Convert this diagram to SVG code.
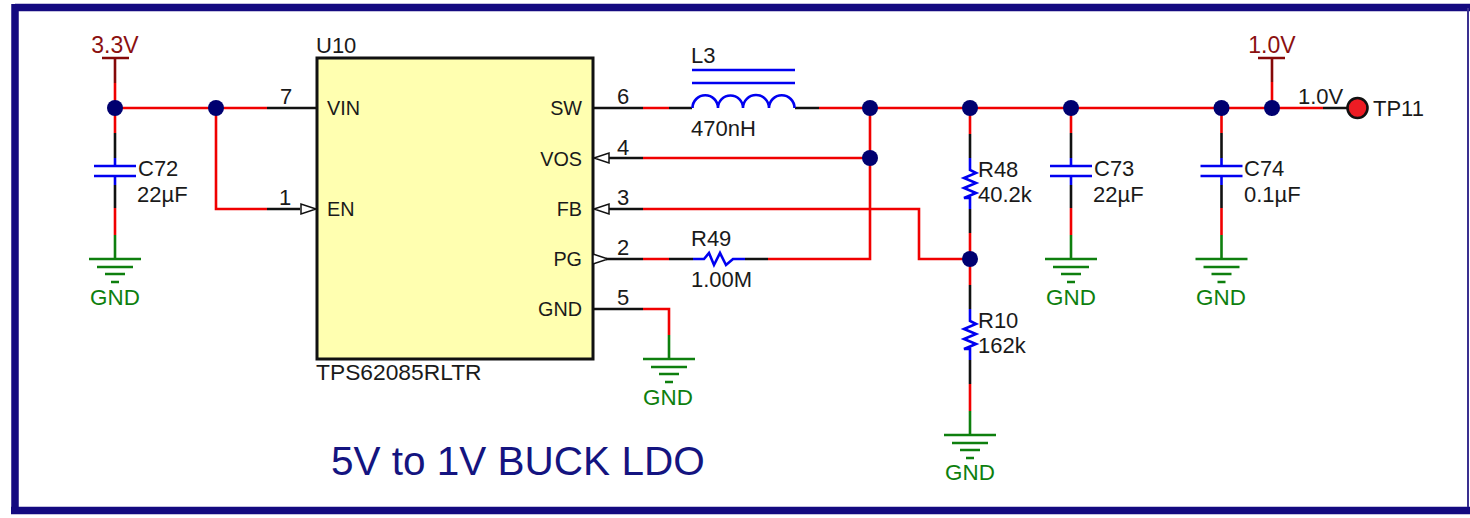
<svg xmlns="http://www.w3.org/2000/svg" width="1470" height="518" viewBox="0 0 1470 518">
<style>
text{font-family:"Liberation Sans",Arial,sans-serif;font-size:22px;fill:#1a1a1a}
.m{text-anchor:middle}.e{text-anchor:end}
.n{font-size:19.800px}
.pw{fill:#8b1010;font-size:23px}.gt{fill:#0e7f0e;font-size:22.400px}
path,line{fill:none;stroke-width:2.600}
.r{stroke:#f00000}.k{stroke:#111}.b{stroke:#0000f0}.g{stroke:#0e7f0e}.d{stroke:#850808}
.j{fill:#000070}
.pin{fill:#fff;stroke:#111;stroke-width:1.500}
</style>
<defs>
<g id="gnd"><path class="g" d="M0 0V24M-26 24H26M-18 32H18M-10 39H10M-4 47H4"/></g>
<g id="cap"><path class="b" d="M0 -8V0M-21 0H21M-21 10H21M0 10V19"/></g>
<g id="res"><path class="b" d="M0 0V12L6 15-6 20 6 25-6 30 6 35-6 40 0 40V51"/></g>
</defs>
<path d="M15 7.500H1470M15 4V514M11 510.500H1470" style="stroke:#140a80;stroke-width:7.500"/>
<line x1="1468" y1="8" x2="1468" y2="507" style="stroke:#3a3090;stroke-width:2"/>

<g id="connectors">
<path class="r" d="M115 83V133M115 108H267M216 108V209H267M115 208V235"/>
<path class="k" d="M115 133V158M115 185V208M267 108H317M267 209H300"/>
<path class="r" d="M643 108H669M819 108H1323M870 108V259H768M643 259H669M643 158H870M643 209H919V259H970M643 309H669V335"/>
<path class="k" d="M593 108H643M669 108H692M795 108H819M608 158H643M608 209H643M606 259H643M669 259H693M745 259H768M593 309H643"/>
<path class="r" d="M970 108V134M970 233V285M970 384V411M1071 108V133M1071 208V235M1221.500 108V133M1221.500 208V235M1272 82V108"/>
<path class="k" d="M970 134V158M970 209V233M970 285V309M970 360V384M1071 133V158M1071 185V208M1221.500 133V158M1221.500 185V208M1323 108H1347"/>
<path class="d" d="M115 58V83M1272 58V82M102 58H129M1258 58H1285"/>
</g>

<g id="U10">
<rect x="317" y="58" width="276" height="301" fill="#ffffb0" stroke="#111" stroke-width="3"/>
<text x="316" y="53">U10</text>
<text x="316" y="380" style="font-size:22.800px">TPS62085RLTR</text>
<text class="n" x="327" y="115">VIN</text><text class="n" x="327" y="216">EN</text>
<text class="e n" x="582" y="115">SW</text><text class="e n" x="582" y="166">VOS</text><text class="e n" x="582" y="216">FB</text><text class="e n" x="582" y="266">PG</text><text class="e n" x="582" y="316">GND</text>
<text class="m" x="286" y="104">7</text><text class="m" x="285" y="205">1</text>
<text class="m" x="623" y="104">6</text><text class="m" x="623" y="155">4</text><text class="m" x="623" y="205">3</text><text class="m" x="623" y="255">2</text><text class="m" x="623" y="305">5</text>
<path class="pin" d="M316 209 301 204V214Z"/>
<path class="pin" d="M594 158 609 153V163Z"/>
<path class="pin" d="M594 209 609 204V214Z"/>
<path class="pin" d="M608 259 593 254V264Z"/>
</g>

<g id="L3">
<path class="b" d="M692 70H795M692 83H795M692.500 108A12.500 12.500 0 0 1 718 108A12.500 12.500 0 0 1 743 108A12.500 12.500 0 0 1 769 108A12.500 12.500 0 0 1 794.500 108"/>
<text x="691" y="63">L3</text><text x="691" y="136">470nH</text>
</g>
<g id="R49">
<path class="b" d="M693 259H704L709 253 714 265 720 253 726 265 733 259H745"/>
<text x="691" y="246">R49</text><text x="691" y="287">1.00M</text>
</g>
<g id="R48"><use href="#res" x="970" y="158"/><text x="978" y="177">R48</text><text x="978" y="202">40.2k</text></g>
<g id="R10"><use href="#res" x="970" y="309"/><text x="978" y="328">R10</text><text x="978" y="353">162k</text></g>
<g id="C72"><use href="#cap" x="115" y="166"/><text x="138" y="176">C72</text><text x="137" y="202">22µF</text></g>
<g id="C73"><use href="#cap" x="1071" y="166"/><text x="1094" y="176">C73</text><text x="1093" y="202">22µF</text></g>
<g id="C74"><use href="#cap" x="1221.500" y="166"/><text x="1244" y="176">C74</text><text x="1244" y="202">0.1µF</text></g>

<g id="GND1"><use href="#gnd" x="115" y="235"/><text class="m gt" x="115" y="305">GND</text></g>
<g id="GND2"><use href="#gnd" x="669" y="335"/><text class="m gt" x="668" y="405">GND</text></g>
<g id="GND3"><use href="#gnd" x="970" y="411"/><text class="m gt" x="970" y="480">GND</text></g>
<g id="GND4"><use href="#gnd" x="1071" y="235"/><text class="m gt" x="1071" y="305">GND</text></g>
<g id="GND5"><use href="#gnd" x="1221.500" y="235"/><text class="m gt" x="1221" y="305">GND</text></g>
<g id="PWR33"><text class="m pw" x="115" y="53">3.3V</text></g>
<g id="PWR10"><text class="m pw" x="1272" y="53">1.0V</text></g>

<g id="junctions">
<circle class="j" cx="115" cy="108" r="8"/><circle class="j" cx="216" cy="108" r="8"/><circle class="j" cx="870" cy="108" r="8"/><circle class="j" cx="870" cy="158" r="8"/><circle class="j" cx="970" cy="108" r="8"/><circle class="j" cx="970" cy="259" r="8"/><circle class="j" cx="1071" cy="108" r="8"/><circle class="j" cx="1221.500" cy="108" r="8"/><circle class="j" cx="1272" cy="108" r="8"/>
</g>
<g id="TP11">
<circle cx="1357.500" cy="108" r="10" fill="#ed1c24" stroke="#111" stroke-width="2.600"/>
<text x="1373" y="116">TP11</text><text x="1298" y="104">1.0V</text>
</g>
<text id="title" x="331" y="475" style="font-size:40.500px;fill:#141480">5V to 1V BUCK LDO</text>
</svg>
